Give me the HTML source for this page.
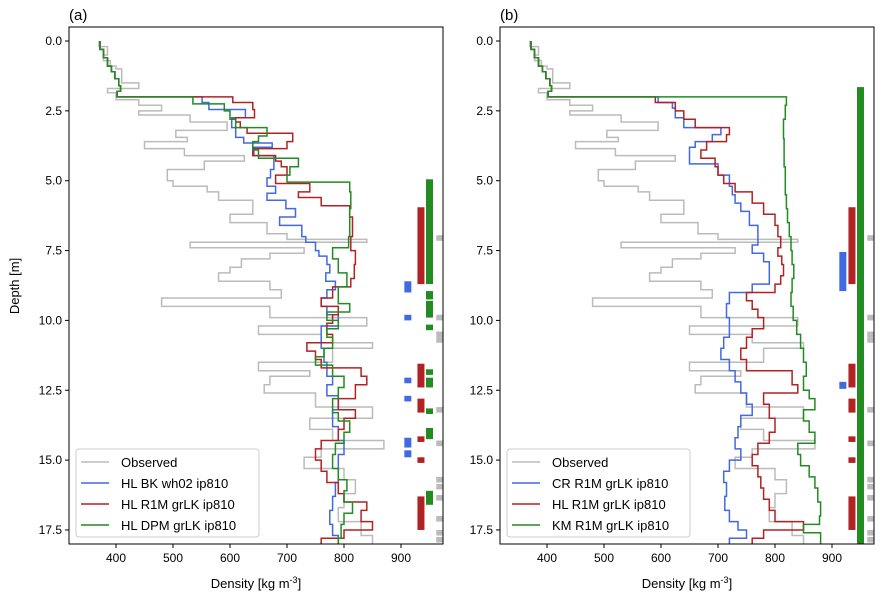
<!DOCTYPE html>
<html><head><meta charset="utf-8"><style>
body{margin:0;background:#fff}
svg{display:block;font-family:"Liberation Sans","DejaVu Sans",sans-serif}
</style></head><body>
<svg id="chart" width="884" height="599"></svg>
<script>
const depthTicks=[0,2.5,5,7.5,10,12.5,15,17.5];
const densTicks=[400,500,600,700,800,900];
const observed=[[0,370],[0.2,385],[0.5,378],[0.7,390],[0.9,400],[1.0,410],[1.5,440],[1.7,385],[1.85,400],[2.1,440],[2.3,480],[2.5,440],[2.65,530],[2.9,595],[3.2,505],[3.45,525],[3.6,450],[3.85,520],[4.1,625],[4.3,555],[4.6,490],[5.0,500],[5.2,560],[5.4,580],[5.7,640],[6.2,600],[6.5,665],[6.9,700],[7.1,840],[7.2,530],[7.4,730],[7.6,670],[7.8,620],[8.1,600],[8.3,580],[8.6,670],[8.9,690],[9.2,480],[9.5,670],[9.9,840],[10.2,650],[10.5,760],[10.8,850],[11.0,780],[11.5,650],[11.8,740],[12.0,670],[12.3,660],[12.6,750],[13.1,850],[13.5,740],[13.9,780],[14.3,870],[14.6,760],[14.9,730],[15.3,800],[15.7,820],[16.2,800],[16.7,790],[17.2,830],[17.7,850]];
const topPart=[[0,372],[0.3,378],[0.6,385],[0.9,392],[1.1,398],[1.35,405],[1.6,408],[1.8,402]];
const blueA=[[2.0,551],[2.2,563],[2.45,627],[2.75,603],[3.1,610],[3.45,624],[3.65,674],[3.8,642],[4.1,677],[4.6,671],[4.9,665],[5.2,680],[5.45,665],[5.7,698],[6.0,715],[6.3,687],[6.6,726],[7.0,733],[7.2,750],[7.5,756],[7.7,770],[8.0,775],[8.3,768],[8.6,785],[8.9,770],[9.2,760],[9.5,770],[9.8,790],[10.2,760],[10.5,760],[11.0,765],[11.5,770],[12.0,780],[12.3,770],[12.7,790],[13.2,780],[13.8,790],[14.3,800],[14.8,790],[15.3,790],[15.8,785],[16.3,780],[16.8,775],[17.3,780],[17.7,790]];
const redA=[[2.0,605],[2.2,640],[2.45,643],[2.75,610],[2.9,618],[3.1,630],[3.3,710],[3.6,700],[3.85,640],[4.1,680],[4.3,690],[4.5,700],[4.8,680],[5.1,740],[5.4,720],[5.6,760],[5.9,810],[6.3,815],[7.0,812],[7.5,820],[8.0,818],[8.5,812],[8.8,780],[9.2,760],[9.5,790],[9.8,780],[10.1,770],[10.5,780],[10.8,735],[11.1,750],[11.4,760],[11.7,830],[12.0,840],[12.3,820],[12.8,790],[13.2,820],[13.5,800],[13.9,790],[14.3,760],[14.6,750],[15.0,760],[15.4,770],[15.8,790],[16.2,800],[16.5,840],[16.8,830],[17.2,850],[17.5,800],[17.8,760]];
const greenA=[[2.0,535],[2.25,590],[2.5,600],[2.8,610],[3.1,665],[3.4,650],[3.6,640],[3.9,650],[4.2,720],[4.5,705],[4.8,700],[5.05,810],[5.4,812],[6.0,810],[7.0,808],[7.4,780],[7.8,790],[8.3,805],[8.8,790],[9.1,790],[9.4,810],[9.7,770],[10.0,790],[10.3,770],[10.6,780],[11.0,765],[11.3,750],[11.6,780],[12.0,800],[12.4,790],[12.8,780],[13.3,790],[13.6,810],[14.0,800],[14.4,785],[14.8,780],[15.3,790],[15.7,805],[16.1,800],[16.5,815],[16.9,800],[17.3,795],[17.8,790]];
const blueB=[[2.0,595],[2.2,620],[2.4,625],[2.75,640],[3.1,705],[3.35,690],[3.6,660],[3.8,650],[4.1,650],[4.4,700],[4.8,720],[5.2,725],[5.5,730],[5.8,740],[6.1,755],[6.6,770],[7.0,770],[7.3,760],[7.6,780],[7.9,790],[8.3,790],[8.7,760],[9.0,720],[9.4,715],[9.9,720],[10.3,720],[10.6,710],[11.0,705],[11.4,720],[11.8,730],[12.2,740],[12.6,750],[13.0,760],[13.4,740],[13.8,735],[14.2,730],[14.6,740],[15.0,720],[15.4,710],[15.8,715],[16.3,712],[16.8,720],[17.2,735],[17.5,750],[17.8,720]];
const redB=[[2.0,590],[2.2,625],[2.5,640],[2.8,660],[3.1,720],[3.35,715],[3.6,680],[3.9,670],[4.2,695],[4.5,700],[4.8,710],[5.1,730],[5.4,760],[5.8,780],[6.2,800],[6.6,805],[7.0,810],[7.4,805],[7.7,812],[8.0,815],[8.4,810],[8.7,800],[9.0,750],[9.3,760],[9.6,770],[9.9,780],[10.3,760],[10.6,750],[11.0,740],[11.4,750],[11.8,830],[12.3,840],[12.6,780],[13.0,790],[13.5,800],[14.0,790],[14.4,770],[14.8,760],[15.2,770],[15.6,775],[16.0,780],[16.4,790],[16.8,800],[17.2,850],[17.5,780],[17.8,760]];
const greenB=[[2.0,820],[2.3,818],[2.8,815],[3.5,816],[4.5,818],[5.5,820],[6.0,822],[6.5,825],[7.0,828],[7.5,830],[8.0,833],[8.5,830],[9.0,828],[9.5,832],[10.0,838],[10.5,845],[11.0,850],[11.5,855],[12.0,850],[12.5,860],[12.8,870],[13.2,850],[13.6,860],[14.0,870],[14.4,840],[14.8,845],[15.2,860],[15.6,870],[16.0,875],[16.5,880],[17.0,878],[17.3,850],[17.6,880]];
const mGreenA=[[4.95,8.7],[8.95,9.25],[9.3,9.9],[10.15,10.35],[11.75,11.95],[12.05,12.4],[13.15,13.35],[13.85,14.25],[16.1,16.6]];
const mRed=[[5.95,8.7],[11.55,12.4],[12.8,13.3],[14.15,14.35],[14.9,15.1],[16.3,17.5]];
const mBlueA=[[8.6,9.0],[9.8,10.0],[12.05,12.25],[12.7,12.9],[14.2,14.55],[14.65,14.9]];
const mGrey=[[6.95,7.15],[9.8,10.0],[10.4,10.6],[10.6,10.8],[13.1,13.3],[14.3,14.5],[15.6,15.8],[15.85,16.05],[16.25,16.45],[17.0,17.2],[17.5,17.7],[17.75,17.95]];
const mGreenB=[[1.65,18.1]];
const mBlueB=[[7.55,8.95],[12.2,12.45]];

const C={grey:'#bbbbbb',blue:'#4169e1',red:'#b22222',green:'#228b22'};
const svg=document.getElementById('chart');
const NS='http://www.w3.org/2000/svg';
function mk(t,a,p){const e=document.createElementNS(NS,t);for(const k in a)e.setAttribute(k,a[k]);(p||svg).appendChild(e);return e;}
const T=27,B=544;
const yS=d=>41+d*27.94;

function panel(left,label,series,markers,legendNames,pname){
  const R=left+374;
  const xS=v=>left+47+(v-400)*0.57;
  const g=mk('g',{});
  
  
  const cid='clip'+left;
  const cp=mk('clipPath',{id:cid},g);mk('rect',{x:left,y:T,width:374,height:B-T},cp);
  const plot=mk('g',{'clip-path':'url(#'+cid+')'},g);
  series.forEach(s=>{
    const all=s.top?topPart.concat(s.data):s.data;
    let d='';
    all.forEach((p,i)=>{const next=i<all.length-1?all[i+1][0]:18.5;
      d+=(i?'L':'M')+xS(p[1]).toFixed(1)+','+yS(p[0]).toFixed(1)+'L'+xS(p[1]).toFixed(1)+','+yS(next).toFixed(1);});
    const e=mk('path',{d:d,fill:'none',stroke:s.c,'stroke-width':1.5},plot);
    
    
  });
  markers.forEach(m=>{m.d.forEach(r=>{
    const e=mk('rect',{x:xS(m.v)-3.5,y:yS(r[0]),width:7,height:yS(r[1])-yS(r[0]),fill:m.c},plot);
    
    
  });});
  mk('rect',{x:left,y:T,width:374,height:B-T,fill:'none',stroke:'#000','stroke-width':1},g);
  depthTicks.forEach(t=>{const y=yS(t);mk('line',{x1:left-4,x2:left,y1:y,y2:y,stroke:'#000'},g);
    const tx=mk('text',{x:left-7,y:y+4,'text-anchor':'end','font-size':12},g);tx.textContent=t.toFixed(1);
    });
  densTicks.forEach(t=>{const x=xS(t);mk('line',{x1:x,x2:x,y1:B,y2:B+4,stroke:'#000'},g);
    const tx=mk('text',{x:x,y:B+18,'text-anchor':'middle','font-size':12},g);tx.textContent=t;
    });
  const xl=mk('text',{x:left+187,y:588,'text-anchor':'middle','font-size':13},g);
  xl.innerHTML='Density [kg m<tspan dy="-5" font-size="9">-3</tspan><tspan dy="5">]</tspan>';
  
  const pl=mk('text',{x:left,y:20,'font-size':15},g);pl.textContent=label;
  
  const lg=mk('g',{},g);
  
  mk('rect',{x:left+7,y:449,width:183,height:88,rx:3,fill:'#fff','fill-opacity':0.8,stroke:'#ccc'},lg);
  legendNames.forEach((n,i)=>{const y=462+i*21;
    mk('line',{x1:left+12,x2:left+40,y1:y,y2:y,stroke:[C.grey,C.blue,C.red,C.green][i],'stroke-width':1.5},lg);
    const t=mk('text',{x:left+52,y:y+5,'font-size':13},lg);t.textContent=n;
    });
}
panel(69,'(a)',[{data:observed,c:C.grey,n:'observed-line'},{data:blueA,c:C.blue,top:1,n:'hl-bk-line'},{data:redA,c:C.red,top:1,n:'hl-r1m-line'},{data:greenA,c:C.green,top:1,n:'hl-dpm-line'}],
 [{d:mBlueA,v:912,c:C.blue,n:'blue-marker'},{d:mRed,v:935,c:C.red,n:'red-marker'},{d:mGreenA,v:950,c:C.green,n:'green-marker'},{d:mGrey,v:968,c:'#bbb',n:'grey-marker'}],
 ['Observed','HL BK wh02 ip810','HL R1M grLK ip810','HL DPM grLK ip810'],'panel-a');
panel(500,'(b)',[{data:observed,c:C.grey,n:'observed-line'},{data:blueB,c:C.blue,top:1,n:'cr-r1m-line'},{data:redB,c:C.red,top:1,n:'hl-r1m-line'},{data:greenB,c:C.green,top:1,n:'km-r1m-line'}],
 [{d:mBlueB,v:919,c:C.blue,n:'blue-marker'},{d:mRed,v:935,c:C.red,n:'red-marker'},{d:mGreenB,v:950,c:C.green,n:'green-marker'},{d:mGrey,v:968,c:'#bbb',n:'grey-marker'}],
 ['Observed','CR R1M grLK ip810','HL R1M grLK ip810','KM R1M grLK ip810'],'panel-b');
const yt=mk('text',{x:19,y:286,'text-anchor':'middle','font-size':13,transform:'rotate(-90 19 286)'});
yt.textContent='Depth [m]';


</script>
</body></html>
